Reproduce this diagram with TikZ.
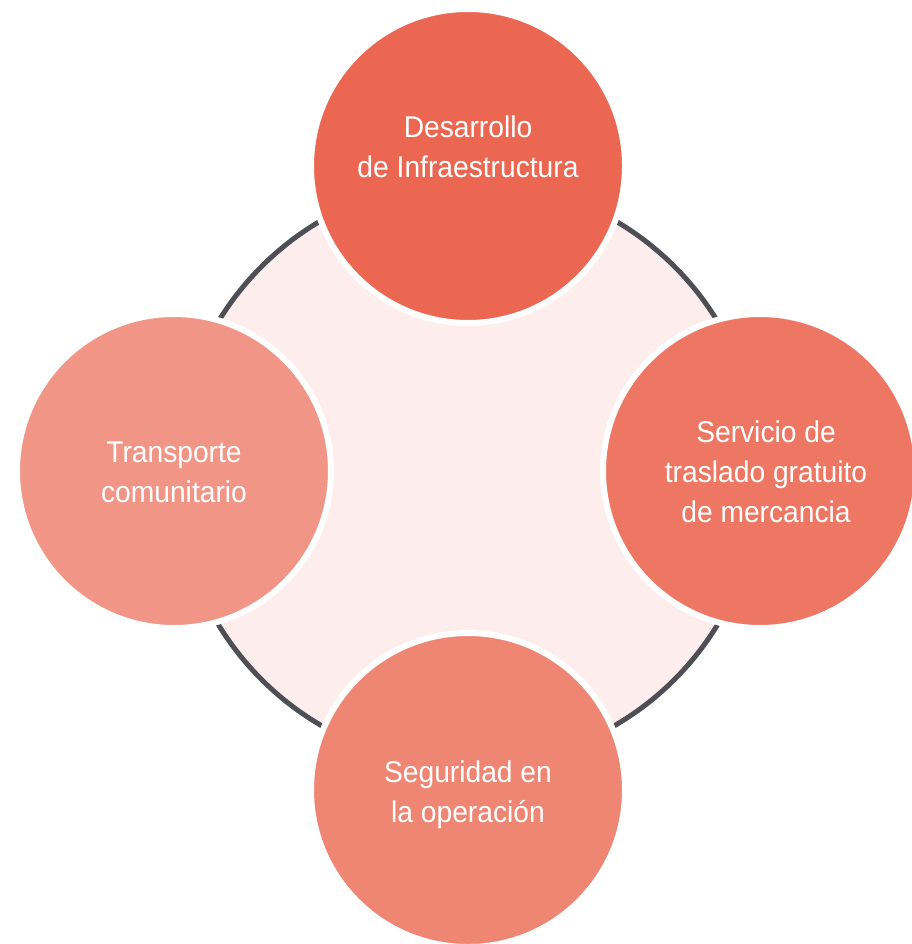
\documentclass[tikz,border=0pt]{standalone}
\usepackage{fontspec}
\setmainfont{Liberation Sans}[FakeStretch=0.94]
\definecolor{ringgray}{HTML}{4D4F54}
\definecolor{ringfill}{HTML}{FDEEED}
\definecolor{ctop}{HTML}{EB6752}
\definecolor{cright}{HTML}{EE7763}
\definecolor{cleft}{HTML}{F19686}
\definecolor{cbottom}{HTML}{EF8673}
\tikzset{
  bubble/.style={circle, draw=white, line width=6pt, minimum size=314pt, inner sep=0pt},
  bubbletext/.style={text=white, align=center, font=\fontsize{30}{40}\selectfont, inner sep=0pt}
}
\begin{document}
\begin{tikzpicture}[x=1pt,y=-1pt]
\useasboundingbox (0,0) rectangle (911,944);
\fill[white] (0,0) rectangle (911,944);
\coordinate (ringc) at (468,473);
\draw[ringgray, line width=5pt, fill=ringfill] (ringc) circle (292pt);
\node[bubble, fill=ctop] (top) at (468,166) {};
\node[bubble, fill=cright] (right) at (760,471) {};
\node[bubble, fill=cleft] (left) at (174,471) {};
\node[bubble, fill=cbottom] (bottom) at (468,790) {};
\node[bubbletext] (ttop) at (468,147) {Desarrollo\\de Infraestructura};
\node[bubbletext] (tright) at (766,472) {Servicio de\\traslado gratuito\\de mercancia};
\node[bubbletext] (tleft) at (174,472) {Transporte\\comunitario};
\node[bubbletext] (tbottom) at (468,795) {Seguridad en\\la operación};
\end{tikzpicture}
\end{document}
